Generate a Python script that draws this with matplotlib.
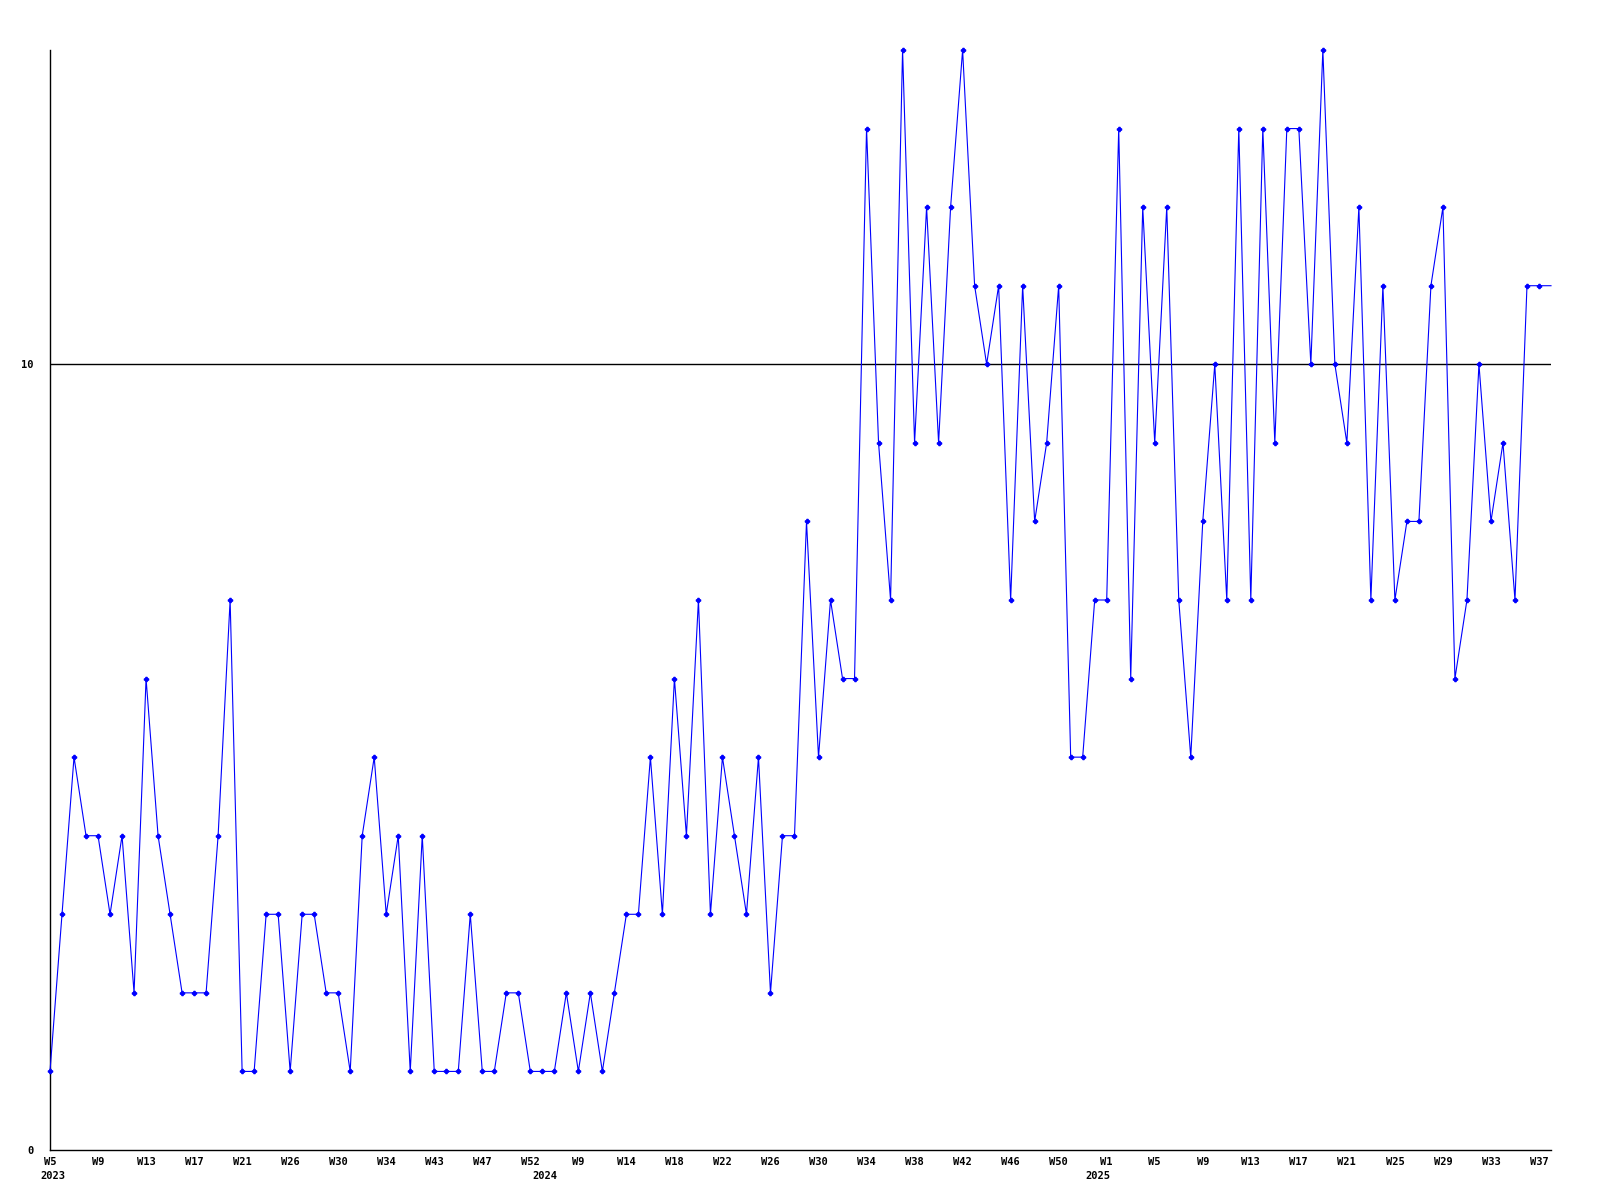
import matplotlib
matplotlib.use('Agg')
import matplotlib.pyplot as plt

# weekly counts, one per week shown on the axis
values = [1, 3, 5, 4, 4, 3, 4, 2, 6, 4,
          3, 2, 2, 2, 4, 7, 1, 1, 3, 3,
          1, 3, 3, 2, 2, 1, 4, 5, 3, 4,
          1, 4, 1, 1, 1, 3, 1, 1, 2, 2,
          1, 1, 1, 2, 1, 2, 1, 2, 3, 3,
          5, 3, 6, 4, 7, 3, 5, 4, 3, 5,
          2, 4, 4, 8, 5, 7, 6, 6, 13, 9,
          7, 14, 9, 12, 9, 12, 14, 11, 10, 11,
          7, 11, 8, 9, 11, 5, 5, 7, 7, 13,
          6, 12, 9, 12, 7, 5, 8, 10, 7, 13,
          7, 13, 9, 13, 13, 10, 14, 10, 9, 12,
          7, 11, 7, 8, 8, 11, 12, 6, 7, 10,
          8, 9, 7, 11, 11, 11]

# week labels, one every 4 points
week_labels = ['W5', 'W9', 'W13', 'W17', 'W21', 'W26', 'W30', 'W34', 'W43', 'W47', 'W52',
               'W9', 'W14', 'W18', 'W22', 'W26', 'W30', 'W34', 'W38', 'W42', 'W46', 'W50',
               'W1', 'W5', 'W9', 'W13', 'W17', 'W21', 'W25', 'W29', 'W33', 'W37']
years = ['2023', '2024', '2025']
year_index = [0, 41, 87]

y_ticks = [0, 10]

font = {'family': 'DejaVu Sans Mono', 'weight': 'bold', 'size': 7.5}

fig = plt.figure(figsize=(16, 12), dpi=100)
ax = fig.add_axes([50 / 1600, 50 / 1200, 1501 / 1600, 1100 / 1200])

x = list(range(len(values)))
ax.plot(x, values, color='#0000ff', linewidth=0.8, marker='P', markersize=3,
        markevery=list(range(len(values) - 1)), clip_on=False, zorder=3)

# reference line at 10
ax.axhline(10, color='black', linewidth=1.0, zorder=2)

ax.set_xlim(0, len(values) - 1)
ax.set_ylim(0, 14)

ax.spines['top'].set_visible(False)
ax.spines['right'].set_visible(False)
for s in ['left', 'bottom']:
    ax.spines[s].set_color('black')
    ax.spines[s].set_linewidth(1.0)

ax.set_xticks(range(0, 4 * len(week_labels), 4))
ax.set_xticklabels(week_labels, fontdict=font)
ax.set_yticks(y_ticks)
ax.set_yticklabels([str(v) for v in y_ticks], fontdict=font)
ax.tick_params(axis='x', length=0, pad=5)
ax.tick_params(axis='y', length=0, pad=12)
for lbl in ax.get_xticklabels():
    lbl.set_x(lbl.get_position()[0])

for yr, idx in zip(years, year_index):
    ax.annotate(yr, xy=(idx, 0), xycoords=('data', 'axes fraction'),
                xytext=(2, -19), textcoords='offset points',
                ha='center', va='center', **font)

fig.savefig('out.png', dpi=100, facecolor='white')
